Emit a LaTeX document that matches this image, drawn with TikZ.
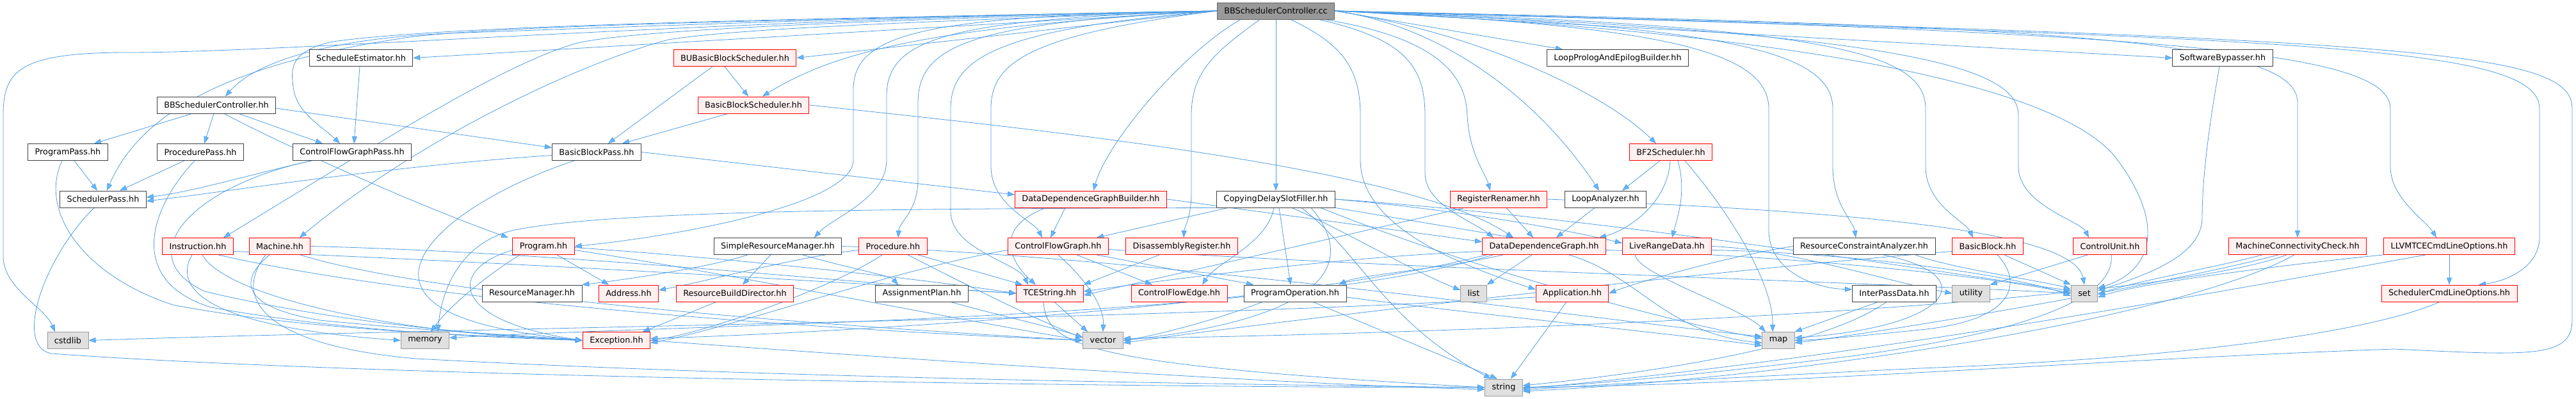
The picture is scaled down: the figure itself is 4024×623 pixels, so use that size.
\documentclass[tikz,border=0pt]{standalone}
\usepackage{xcolor}
\usepackage{fontspec}
\setmainfont{DejaVu Sans}
\usepackage{tikz}
\usetikzlibrary{arrows.meta, positioning}

\definecolor{enlace}{HTML}{4F9DE3}
\definecolor{puntaenlace}{HTML}{63B8FF}
\definecolor{bordenormal}{HTML}{404040}
\definecolor{fondotruncado}{HTML}{FFF0F0}
\definecolor{fondosistema}{HTML}{E0E0E0}
\definecolor{bordesistema}{HTML}{999999}
\definecolor{fondoraiz}{HTML}{999999}
\definecolor{borderaiz}{HTML}{666666}

\pgfdeclarelayer{fondo}
\pgfsetlayers{fondo,main}

\begin{document}
\begin{tikzpicture}[
        x=1pt, y=-1pt,
        archivo/.style={
            rectangle,
            draw=bordenormal,
            line width=0.9pt,
            fill=white,
            minimum height=26pt,
            inner xsep=11pt,
            inner ysep=0pt,
            font=\fontsize{12.8}{15}\selectfont
        },
        truncado/.style={
            archivo,
            draw=red,
            fill=fondotruncado
        },
        sistema/.style={
            archivo,
            draw=bordesistema,
            fill=fondosistema
        },
        raiz/.style={
            archivo,
            draw=borderaiz,
            fill=fondoraiz
        },
        flecha/.style={
            -{Triangle[length=11pt,width=8pt,fill=puntaenlace]},
            draw=enlace,
            line width=0.8pt
        }
    ]

    \useasboundingbox (0,0) rectangle (4024,623);

    \node[raiz] (controlador) at (1993,17) {BBSchedulerController.cc};

    \node[archivo] (estimador) at (564,90.5) {ScheduleEstimator.hh};
    \node[truncado] (buscheduler) at (1148,90.5) {BUBasicBlockScheduler.hh};
    \node[archivo] (prologo) at (2527,90.5) {LoopPrologAndEpilogBuilder.hh};
    \node[archivo] (bypasser) at (3472,90.5) {SoftwareBypasser.hh};

    \node[archivo] (controladorhh) at (338,164) {BBSchedulerController.hh};
    \node[truncado] (bbscheduler) at (1177,164) {BasicBlockScheduler.hh};

    \node[archivo] (programpass) at (106,237.5) {ProgramPass.hh};
    \node[archivo] (procedurepass) at (313,237.5) {ProcedurePass.hh};
    \node[archivo] (cfgpass) at (550,237.5) {ControlFlowGraphPass.hh};
    \node[archivo] (bbpass) at (932,237.5) {BasicBlockPass.hh};
    \node[truncado] (bf2) at (2610,237.5) {BF2Scheduler.hh};

    \node[archivo] (schedpass) at (161,311) {SchedulerPass.hh};
    \node[truncado] (ddgbuilder) at (1704,311) {DataDependenceGraphBuilder.hh};
    \node[archivo] (delayfiller) at (1993,311) {CopyingDelaySlotFiller.hh};
    \node[truncado] (renamer) at (2341,311) {RegisterRenamer.hh};
    \node[archivo] (loopanalyzer) at (2508,311) {LoopAnalyzer.hh};

    \node[truncado] (instruction) at (309,384.5) {Instruction.hh};
    \node[truncado] (machine) at (437,384.5) {Machine.hh};
    \node[truncado] (program) at (849,384.5) {Program.hh};
    \node[archivo] (simplerm) at (1215,384.5) {SimpleResourceManager.hh};
    \node[truncado] (procedure) at (1395,384.5) {Procedure.hh};
    \node[truncado] (cfg) at (1653,384.5) {ControlFlowGraph.hh};
    \node[truncado] (disasmreg) at (1846,384.5) {DisassemblyRegister.hh};
    \node[truncado] (ddg) at (2412,384.5) {DataDependenceGraph.hh};
    \node[truncado] (liverange) at (2604,384.5) {LiveRangeData.hh};
    \node[archivo] (rcanalyzer) at (2912,384.5) {ResourceConstraintAnalyzer.hh};
    \node[truncado] (basicblock) at (3105,384.5) {BasicBlock.hh};
    \node[truncado] (controlunit) at (3296,384.5) {ControlUnit.hh};
    \node[truncado] (connectivity) at (3589,384.5) {MachineConnectivityCheck.hh};
    \node[truncado] (llvmopts) at (3826,384.5) {LLVMTCECmdLineOptions.hh};

    \node[archivo] (resourcemgr) at (831,458) {ResourceManager.hh};
    \node[truncado] (address) at (982,458) {Address.hh};
    \node[truncado] (builddirector) at (1148,458) {ResourceBuildDirector.hh};
    \node[archivo] (assignplan) at (1440,458) {AssignmentPlan.hh};
    \node[truncado] (tcestring) at (1640,458) {TCEString.hh};
    \node[truncado] (cfedge) at (1842,458) {ControlFlowEdge.hh};
    \node[archivo] (programop) at (2023,458) {ProgramOperation.hh};
    \node[sistema] (stdlist) at (2302,458) {list};
    \node[truncado] (application) at (2456,458) {Application.hh};
    \node[archivo] (interpass) at (2959,458) {InterPassData.hh};
    \node[sistema] (stdutility) at (3079,458) {utility};
    \node[sistema] (stdset) at (3256,458) {set};
    \node[truncado] (schedopts) at (3826,458) {SchedulerCmdLineOptions.hh};

    \node[sistema] (stdcstdlib) at (106,531.5) {cstdlib};
    \node[sistema] (stdmemory) at (664,531.5) {memory};
    \node[truncado] (exception) at (963,531.5) {Exception.hh};
    \node[sistema] (stdvector) at (1723,531.5) {vector};
    \node[sistema] (stdmap) at (2778,531.5) {map};

    \node[sistema] (stdstring) at (2349,605) {string};

    \begin{pgfonlayer}{fondo}
    \draw[flecha] (controlador.west) -- (estimador.east);
    \draw[flecha] (controlador.west) -- (buscheduler.east);
    \draw[flecha] (controlador.west) .. controls (1400,25) and (900,45) .. (700,52)
        .. controls (520,60) and (400,95) .. ([xshift=14pt]controladorhh.north);
    \draw[flecha] (controlador.west) .. controls (1300,30) and (800,38) .. (640,58)
        .. controls (420,90) and (230,150) .. ([xshift=6pt]schedpass.north);
    \draw[flecha] (controlador.west) .. controls (1100,30) and (450,82) .. (200,82)
        .. controls (30,82) and (5,110) .. (5,180) -- (5,400)
        .. controls (5,450) and (70,480) .. ([xshift=-20pt]stdcstdlib.north);
    \draw[flecha] (controlador.west) .. controls (1200,30) and (700,40) .. (520,65)
        .. controls (450,80) and (455,110) .. (458,135)
        .. controls (462,175) and (500,195) .. ([xshift=-19pt]cfgpass.north);
    \draw[flecha] (controlador.west) .. controls (1500,40) and (1320,70) .. ([xshift=14pt]bbscheduler.north);
    \draw[flecha] (controlador.west) .. controls (1400,30) and (1000,45) .. (903,67)
        .. controls (780,100) and (550,250) .. ([xshift=40pt]instruction.north);
    \draw[flecha] (controlador.west) .. controls (1400,35) and (1150,45) .. (1044,62)
        .. controls (900,100) and (650,220) .. ([xshift=31pt]machine.north);
    \draw[flecha] (controlador.west) .. controls (1450,25) and (1333,50) .. (1333,140) -- (1333,250)
        .. controls (1333,320) and (1050,370) .. (program.east);
    \draw[flecha] (controlador.west) .. controls (1480,30) and (1385,60) .. (1385,150) -- (1385,250)
        .. controls (1385,310) and (1300,340) .. ([xshift=57pt]simplerm.north);
    \draw[flecha] (controlador.west) .. controls (1520,35) and (1434,70) .. (1434,160) -- (1434,280)
        .. controls (1434,330) and (1405,345) .. ([xshift=8pt]procedure.north);
    \draw[flecha] (controlador.west) .. controls (1560,45) and (1485,90) .. (1485,170) -- (1485,330)
        .. controls (1485,390) and (1590,410) .. ([xshift=-34pt]tcestring.north);
    \draw[flecha] (controlador.west) .. controls (1600,55) and (1548,100) .. (1548,170) -- (1548,260)
        .. controls (1548,320) and (1615,345) .. ([xshift=-25pt]cfg.north);
    \draw[flecha] ([xshift=-55pt]controlador.south) .. controls (1850,80) and (1730,220) .. ([xshift=4pt]ddgbuilder.north);
    \draw[flecha] ([xshift=-25pt]controlador.south) .. controls (1900,80) and (1861,110) .. (1861,180) -- (1861,300)
        .. controls (1861,340) and (1850,355) .. ([xshift=3pt]disasmreg.north);
    \draw[flecha] (controlador.south) -- (delayfiller.north);
    \draw[flecha] ([xshift=23pt]controlador.south) .. controls (2100,70) and (2125,110) .. (2125,180) -- (2125,250)
        .. controls (2125,360) and (2300,420) .. ([yshift=6pt]application.west);
    \draw[flecha] ([xshift=67pt]controlador.south) .. controls (2190,60) and (2226,100) .. (2226,180) -- (2226,270)
        .. controls (2226,320) and (2300,345) .. ([xshift=-79pt]ddg.north);
    \draw[flecha] ([xshift=76pt]controlador.south) .. controls (2250,60) and (2290,120) .. (2292,180)
        .. controls (2295,240) and (2320,270) .. ([xshift=-13pt]renamer.north);
    \draw[flecha] (controlador.east) .. controls (2250,40) and (2400,150) .. ([xshift=-10pt]loopanalyzer.north);
    \draw[flecha] (controlador.east) .. controls (2300,50) and (2500,140) .. ([xshift=-23pt]bf2.north);
    \draw[flecha] (controlador.east) -- ([xshift=25pt]prologo.north west);
    \draw[flecha] (controlador.east) .. controls (2600,40) and (2763,80) .. (2763,170) -- (2763,360)
        .. controls (2763,420) and (2830,450) .. ([yshift=6pt]interpass.west);
    \draw[flecha] (controlador.east) .. controls (2700,40) and (2863,80) .. (2863,170) -- (2863,260)
        .. controls (2863,320) and (2895,345) .. ([xshift=-13pt]rcanalyzer.north);
    \draw[flecha] (controlador.east) .. controls (2850,40) and (3008,80) .. (3008,170) -- (3008,260)
        .. controls (3008,320) and (3070,345) .. ([xshift=-23pt]basicblock.north);
    \draw[flecha] (controlador.east) .. controls (2950,50) and (3153,100) .. (3153,180) -- (3153,260)
        .. controls (3153,320) and (3250,345) .. ([xshift=-33pt]controlunit.north);
    \draw[flecha] (controlador.east) .. controls (2800,50) and (3200,130) .. (3300,240)
        .. controls (3380,340) and (3370,420) .. ([yshift=8pt]stdset.east);
    \draw[flecha] (controlador.east) -- (bypasser.west);
    \draw[flecha] (controlador.east) .. controls (3200,40) and (3589,60) .. (3589,160) -- (connectivity.north);
    \draw[flecha] (controlador.east) .. controls (3400,50) and (3734,80) .. (3734,170) -- (3734,260)
        .. controls (3734,310) and (3790,345) .. ([xshift=-20pt]llvmopts.north);
    \draw[flecha] (controlador.east) .. controls (3600,60) and (3967,70) .. (3967,170) -- (3967,370)
        .. controls (3967,420) and (3910,440) .. ([xshift=46pt]schedopts.north);
    \draw[flecha] (controlador.east) .. controls (3800,60) and (4018,80) .. (4018,170) -- (4018,500)
        .. controls (4018,560) and (3950,555) .. (3740,545)
        .. controls (3300,560) and (2800,600) .. (stdstring.east);

    \draw[flecha] ([xshift=-2pt]estimador.south) -- ([xshift=3pt]cfgpass.north);
    \draw[flecha] ([xshift=-38pt]controladorhh.south) -- ([xshift=41pt]programpass.north);
    \draw[flecha] ([xshift=-4pt]controladorhh.south) -- ([xshift=6pt]procedurepass.north);
    \draw[flecha] ([xshift=35pt]controladorhh.south) -- ([xshift=-46pt]cfgpass.north);
    \draw[flecha] ([yshift=-5pt]controladorhh.east) -- ([yshift=7pt]bbpass.west);
    \draw[flecha] ([xshift=12pt]controladorhh.south) .. controls (450,230) and (650,320) .. ([xshift=-55pt]program.north);
    \draw[flecha] ([xshift=10pt]programpass.south) -- ([xshift=-9pt]schedpass.north);
    \draw[flecha] ([xshift=-25pt]procedurepass.south) -- ([xshift=26pt]schedpass.north);
    \draw[flecha] ([xshift=-63pt]cfgpass.south) .. controls (400,270) and (300,300) .. ([yshift=3pt]schedpass.east);
    \draw[flecha] ([yshift=-5pt]bbpass.west) .. controls (600,260) and (350,300) .. ([yshift=-3pt]schedpass.east);
    \draw[flecha] ([xshift=-16pt]buscheduler.south) -- ([xshift=-8pt]bbscheduler.north);
    \draw[flecha] ([xshift=-35pt]buscheduler.south) -- ([xshift=18pt]bbpass.north);
    \draw[flecha] ([xshift=-40pt]bbscheduler.south) -- ([xshift=40pt]bbpass.north);
    \draw[flecha] (bbscheduler.east) .. controls (1600,200) and (2200,260) .. ([xshift=-48pt]ddg.north);
    \draw[flecha] (bbpass.east) -- ([yshift=7pt]ddgbuilder.west);
    \draw[flecha] ([xshift=-35pt]bbpass.south) .. controls (750,300) and (640,380) .. (655,440)
        .. controls (670,500) and (800,520) .. (exception.west);
    \draw[flecha] ([xshift=-14pt]schedpass.south) .. controls (70,400) and (20,540) .. (80,552)
        .. controls (600,590) and (1800,605) .. (stdstring.west);
    \draw[flecha] ([xshift=-9pt]programpass.south) .. controls (60,330) and (130,430) .. (270,476)
        .. controls (500,520) and (800,525) .. (exception.west);
    \draw[flecha] ([xshift=-9pt]procedurepass.south) .. controls (230,330) and (200,440) .. (330,480)
        .. controls (550,520) and (800,528) .. (exception.west);
    \draw[flecha] ([xshift=-63pt]cfgpass.south) .. controls (300,290) and (200,400) .. (320,455)
        .. controls (550,510) and (800,525) .. (exception.west);

    \draw[flecha] ([xshift=-9pt]instruction.south) .. controls (270,450) and (320,510) .. (stdmemory.west);
    \draw[flecha] ([xshift=7pt]instruction.south) .. controls (350,460) and (600,520) .. (exception.west);
    \draw[flecha] ([xshift=32pt]instruction.south) .. controls (700,480) and (1400,520) .. (stdvector.west);
    \draw[flecha] ([yshift=-8pt]instruction.east) .. controls (800,410) and (1300,440) .. (tcestring.west);
    \draw[flecha] ([xshift=-16pt]machine.south) .. controls (370,440) and (380,480) .. (500,500)
        .. controls (700,520) and (850,525) .. (exception.west);
    \draw[flecha] ([xshift=-22pt]machine.south) .. controls (360,470) and (420,540) .. (650,560)
        .. controls (1200,590) and (1900,600) .. (stdstring.west);
    \draw[flecha] ([xshift=32pt]machine.south) .. controls (700,470) and (1400,515) .. (stdvector.west);
    \draw[flecha] (machine.east) .. controls (900,395) and (1300,440) .. (tcestring.west);
    \draw[flecha] ([xshift=21pt]program.south) -- ([xshift=-31pt]address.north);
    \draw[flecha] ([xshift=-37pt]program.south) .. controls (760,430) and (700,480) .. ([xshift=9pt]stdmemory.north);
    \draw[flecha] ([yshift=-6pt]program.west) .. controls (700,420) and (700,500) .. (exception.west);
    \draw[flecha] ([yshift=-6pt]program.east) .. controls (1100,420) and (1500,500) .. (stdvector.west);
    \draw[flecha] ([yshift=-2pt]program.east) .. controls (1100,400) and (1400,430) .. (tcestring.west);
    \draw[flecha] ([xshift=-47pt]simplerm.south) .. controls (1100,420) and (950,440) .. (resourcemgr.north east);
    \draw[flecha] ([xshift=-11pt]simplerm.south) -- ([xshift=12pt]builddirector.north);
    \draw[flecha] ([xshift=39pt]simplerm.south) .. controls (1330,420) and (1390,430) .. ([xshift=-37pt]assignplan.north);
    \draw[flecha] (simplerm.east) .. controls (1800,400) and (2500,500) .. ([yshift=6pt]stdmap.west);
    \draw[flecha] ([xshift=-29pt]builddirector.south) -- ([xshift=41pt]exception.north);
    \draw[flecha] ([yshift=-6pt]procedure.west) .. controls (1250,400) and (1100,440) .. ([yshift=5pt]address.east);
    \draw[flecha] ([xshift=39pt]procedure.south) -- ([xshift=-43pt]tcestring.north);
    \draw[flecha] ([xshift=23pt]procedure.south) .. controls (1500,440) and (1620,500) .. ([yshift=4pt]stdvector.west);
    \draw[flecha] ([xshift=-17pt]procedure.south) .. controls (1300,450) and (1100,520) .. (exception.east);
    \draw[flecha] ([xshift=45pt]assignplan.south) .. controls (1550,490) and (1640,510) .. ([yshift=5pt]stdvector.west);

    \draw[flecha] ([xshift=29pt]cfg.south) -- ([xshift=-42pt]cfedge.north);
    \draw[flecha] ([xshift=60pt]cfg.south) -- ([xshift=-65pt]programop.north);
    \draw[flecha] (cfg.south) .. controls (1700,440) and (1725,480) .. (stdvector.north);
    \draw[flecha] ([yshift=-6pt]cfg.west) .. controls (1400,420) and (1150,510) .. ([yshift=-4pt]exception.east);
    \draw[flecha] ([yshift=-5pt]cfg.east) .. controls (2200,420) and (2900,440) .. (stdset.west);
    \draw[flecha] ([xshift=-35pt]disasmreg.south) -- (tcestring.north east);
    \draw[flecha] ([xshift=-40pt]ddgbuilder.south) -- ([xshift=-12pt]cfg.north);
    \draw[flecha] ([xshift=-70pt]ddgbuilder.south) .. controls (1540,360) and (1590,420) .. ([xshift=-22pt]tcestring.north);
    \draw[flecha] (ddgbuilder.east) -- ([yshift=7pt]ddg.west);

    \draw[flecha] ([xshift=-75pt]delayfiller.south) -- ([xshift=60pt]cfg.north);
    \draw[flecha] ([xshift=-3pt]delayfiller.south) .. controls (1980,380) and (1900,410) .. ([xshift=36pt]cfedge.north);
    \draw[flecha] ([xshift=5pt]delayfiller.south) -- ([xshift=-7pt]programop.north);
    \draw[flecha] ([xshift=25pt]delayfiller.south) .. controls (2100,360) and (2200,420) .. ([yshift=5pt]stdlist.west);
    \draw[flecha] (delayfiller.south east) -- ([xshift=-48pt]ddg.north);
    \draw[flecha] (delayfiller.east) .. controls (2300,330) and (2450,360) .. ([yshift=5pt]liverange.west);
    \draw[flecha] ([xshift=40pt]delayfiller.south) .. controls (2130,400) and (2160,500) .. ([xshift=-20pt]stdstring.north);
    \draw[flecha] ([xshift=70pt]delayfiller.south) .. controls (2300,420) and (2600,500) .. ([yshift=3pt]stdmap.west);
    \draw[flecha] (delayfiller.east) .. controls (2500,340) and (3000,420) .. ([yshift=4pt]stdset.west);
    \draw[flecha] ([xshift=55pt]delayfiller.south) .. controls (2130,420) and (2050,500) .. (stdvector.east);
    \draw[flecha] (delayfiller.south west) .. controls (1400,326) and (950,328) .. (800,360)
        .. controls (720,380) and (690,450) .. ([xshift=20pt]stdmemory.north);

    \draw[flecha] ([xshift=12pt]renamer.south) -- ([xshift=-17pt]ddg.north);
    \draw[flecha] ([xshift=-53pt]renamer.south) -- ([yshift=-3pt]tcestring.east);
    \draw[flecha] (renamer.east) .. controls (2900,330) and (3240,360) .. (stdset.north);
    \draw[flecha] ([xshift=-17pt]loopanalyzer.south) -- ([xshift=19pt]ddg.north);
    \draw[flecha] ([xshift=-17pt]bf2.south) -- ([xshift=26pt]loopanalyzer.north);
    \draw[flecha] ([xshift=-1pt]bf2.south) .. controls (2605,320) and (2540,360) .. ([xshift=86pt]ddg.north);
    \draw[flecha] ([xshift=11pt]bf2.south) .. controls (2635,300) and (2620,340) .. ([xshift=8pt]liverange.north);
    \draw[flecha] ([xshift=22pt]bf2.south) .. controls (2700,330) and (2770,440) .. ([xshift=-9pt]stdmap.north);

    \draw[flecha] ([xshift=-64pt]ddg.south) .. controls (2250,420) and (2120,430) .. ([xshift=-12pt]programop.north east);
    \draw[flecha] ([xshift=-19pt]ddg.south) -- (stdlist.north east);
    \draw[flecha] ([xshift=39pt]ddg.south) .. controls (2560,430) and (2600,520) .. ([yshift=-4pt]stdmap.west);
    \draw[flecha] ([yshift=-8pt]ddg.west) .. controls (2100,400) and (1800,440) .. ([yshift=3pt]tcestring.east);
    \draw[flecha] ([xshift=-90pt]ddg.south) .. controls (2000,480) and (1300,520) .. ([yshift=3pt]exception.east);
    \draw[flecha] ([yshift=-6pt]ddg.east) .. controls (2800,400) and (3100,430) .. (stdset.west);
    \draw[flecha] ([xshift=-80pt]ddg.south) .. controls (2000,500) and (1100,505) .. ([yshift=4pt]stdmemory.east);
    \draw[flecha] ([yshift=-6pt]liverange.east) .. controls (2900,395) and (3150,430) .. ([yshift=-4pt]stdset.west);
    \draw[flecha] ([xshift=-50pt]liverange.south) .. controls (2560,430) and (2720,480) .. ([xshift=-20pt]stdmap.north);
    \draw[flecha] (liverange.east) .. controls (2800,390) and (2950,440) .. (stdutility.west);

    \draw[flecha] ([xshift=-9pt]application.south) -- ([xshift=11pt]stdstring.north);
    \draw[flecha] ([yshift=-6pt]application.west) .. controls (1800,500) and (800,510) .. (stdcstdlib.east);
    \draw[flecha] ([xshift=-51pt]programop.south) .. controls (1900,500) and (1800,525) .. (stdvector.east);
    \draw[flecha] ([xshift=28pt]programop.south) -- ([xshift=-10pt]stdstring.north);
    \draw[flecha] ([yshift=-6pt]programop.east) .. controls (2300,490) and (2600,520) .. ([yshift=-8pt]stdmap.west);
    \draw[flecha] ([xshift=-10pt]tcestring.south) .. controls (1635,540) and (1690,570) .. (stdstring.west);
    \draw[flecha] ([xshift=7pt]tcestring.south) -- ([xshift=-24pt]stdvector.north);
    \draw[flecha] ([xshift=-25pt]interpass.south) -- (stdmap.north east);
    \draw[flecha] ([xshift=-12pt]interpass.south) .. controls (2850,540) and (2600,580) .. ([yshift=3pt]stdstring.east);
    \draw[flecha] (exception.east) .. controls (1400,560) and (2000,600) .. ([yshift=-3pt]stdstring.west);

    \draw[flecha] ([xshift=26pt]basicblock.south) -- (stdset.north west);
    \draw[flecha] ([xshift=15pt]basicblock.south) .. controls (3160,440) and (3150,500) .. (3000,515)
        .. controls (2900,525) and (2850,530) .. (stdmap.east);
    \draw[flecha] ([yshift=-8pt]basicblock.west) .. controls (2700,420) and (2000,500) .. ([yshift=-4pt]stdvector.east);
    \draw[flecha] ([xshift=23pt]controlunit.south west) -- (stdutility.north east);
    \draw[flecha] ([xshift=2pt]controlunit.south) .. controls (3305,470) and (3150,520) .. (2900,555)
        .. controls (2700,580) and (2500,600) .. (stdstring.east);
    \draw[flecha] ([xshift=30pt]rcanalyzer.south) .. controls (3100,430) and (3050,510) .. ([yshift=4pt]stdmap.east);
    \draw[flecha] ([xshift=80pt]rcanalyzer.south) .. controls (3050,420) and (3200,440) .. ([yshift=6pt]stdset.west);
    \draw[flecha] (rcanalyzer.west) .. controls (2700,400) and (2560,440) .. (application.east);

    \draw[flecha] ([xshift=-5pt]bypasser.south) .. controls (3450,200) and (3440,280) .. (3440,340)
        .. controls (3440,400) and (3350,430) .. ([yshift=4pt]stdset.east);
    \draw[flecha] ([xshift=-55pt]connectivity.south) .. controls (3450,420) and (3330,440) .. ([yshift=-2pt]stdset.east);
    \draw[flecha] ([xshift=-30pt]connectivity.south) .. controls (3400,440) and (3000,510) .. ([yshift=-4pt]stdmap.east);
    \draw[flecha] ([xshift=-17pt]connectivity.south) .. controls (3350,480) and (2300,520) .. ([yshift=3pt]stdvector.east);
    \draw[flecha] ([xshift=-5pt]connectivity.south) .. controls (3400,500) and (2800,590) .. ([yshift=-6pt]stdstring.east);
    \draw[flecha] (llvmopts.south) -- (schedopts.north);
    \draw[flecha] ([xshift=-37pt]llvmopts.south) .. controls (3500,450) and (2900,560) .. ([yshift=-2pt]stdstring.east);
    \draw[flecha] (llvmopts.south west) .. controls (3600,410) and (3350,440) .. ([yshift=-6pt]stdset.east);
    \draw[flecha] ([xshift=-15pt]schedopts.south) .. controls (3700,520) and (3400,560) .. (3000,575)
        .. controls (2700,590) and (2500,600) .. ([yshift=-4pt]stdstring.east);
    \end{pgfonlayer}

    \end{tikzpicture}
\end{document}
